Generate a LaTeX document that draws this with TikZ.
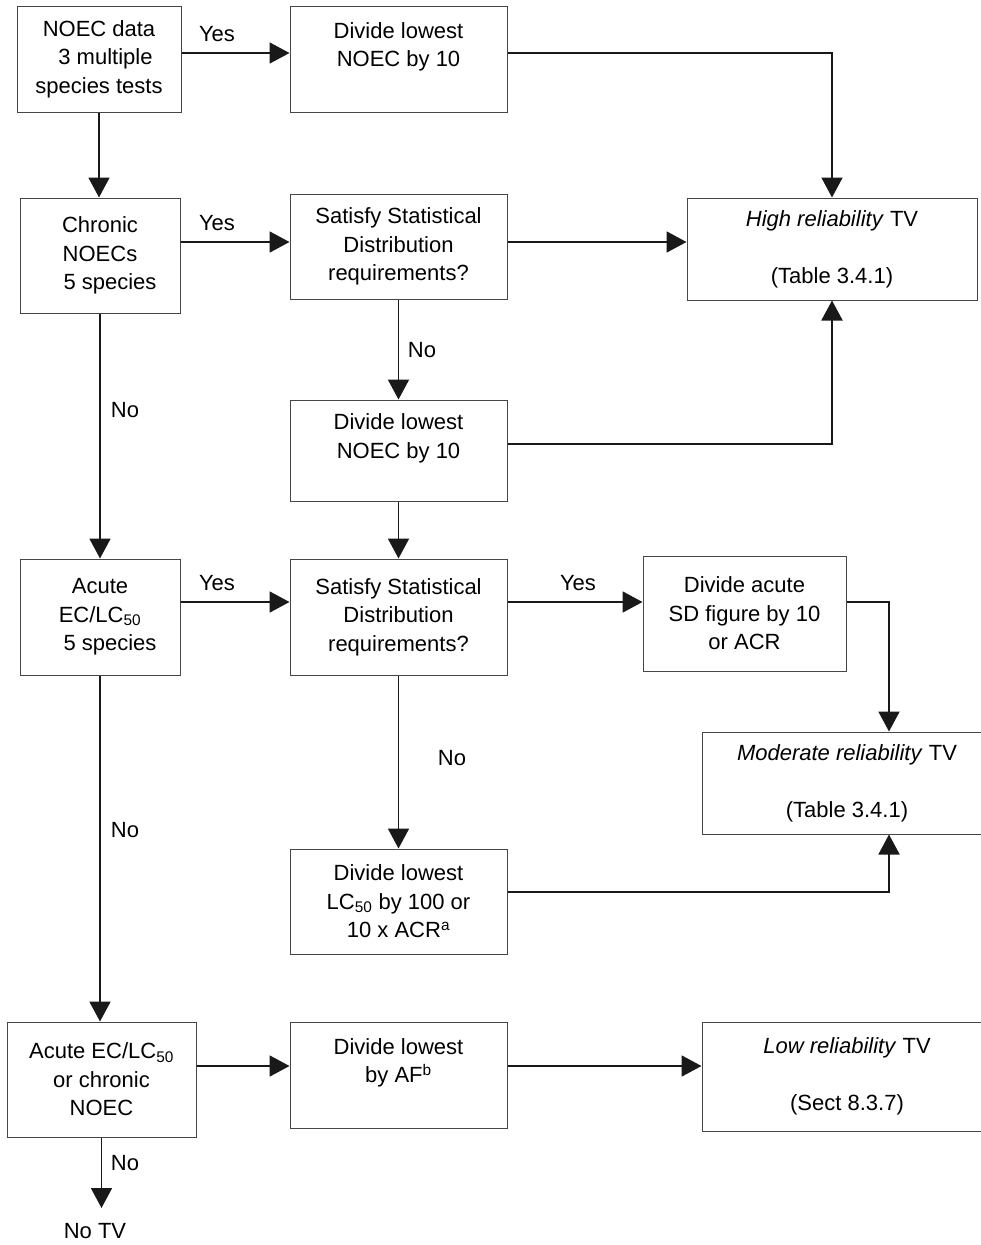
\documentclass[tikz,border=0pt]{standalone}
\usepackage{fontspec}
\setmainfont{Liberation Sans}
\usetikzlibrary{arrows.meta}
\definecolor{boxline}{RGB}{70,70,70}
\definecolor{arrline}{RGB}{25,25,25}
\begin{document}
\begin{tikzpicture}[x=1pt,y=-1pt,
  box/.style={draw=boxline, line width=1pt, rectangle, align=center, inner sep=0pt,
              font=\fontsize{22}{28.5}\selectfont, text=black},
  lbl/.style={font=\fontsize{22}{28.5}\selectfont, inner sep=0pt, text=black},
  arr/.style={draw=arrline, line width=1.9pt, -{Triangle[length=20pt,width=21pt]}},
  ln/.style={draw=arrline, line width=1.9pt}
]
\useasboundingbox (0,0) rectangle (980,1245);
\fill[white] (0,0) rectangle (980,1245);

% boxes
\node[box, minimum width=164pt, minimum height=106pt] (n1) at (99,59)
  {NOEC data\\\hspace*{13pt}3 multiple\\species tests};
\node[box, minimum width=217pt, minimum height=106pt] (d1) at (398.5,59)
  {Divide lowest\\NOEC by 10\\\mbox{}};
\node[box, minimum width=160pt, minimum height=115pt] (n2) at (100,255.5)
  {Chronic\\NOECs\\\hspace*{20pt}5 species};
\node[box, minimum width=217pt, minimum height=105pt] (s1) at (398.5,246.5)
  {Satisfy Statistical\\Distribution\\requirements?};
\node[box, minimum width=290pt, minimum height=102pt] (h) at (832,249)
  {\textit{High reliability} TV\\\mbox{}\\(Table 3.4.1)};
\node[box, minimum width=217pt, minimum height=101pt] (d2) at (398.5,450.5)
  {Divide lowest\\NOEC by 10\\\mbox{}};
\node[box, minimum width=160pt, minimum height=116pt] (n3) at (100,617)
  {Acute\\EC/LC\textsubscript{50}\\\hspace*{20pt}5 species};
\node[box, minimum width=217pt, minimum height=116pt] (s2) at (398.5,617)
  {Satisfy Statistical\\Distribution\\requirements?};
\node[box, minimum width=203pt, minimum height=115pt] (da) at (744.5,613.5)
  {Divide acute\\SD figure by 10\\or ACR};
\node[box, minimum width=290pt, minimum height=102pt] (m) at (847,783)
  {\textit{Moderate reliability} TV\\\mbox{}\\(Table 3.4.1)};
\node[box, minimum width=217pt, minimum height=105pt] (dl) at (398.5,901.5)
  {Divide lowest\\LC\textsubscript{50} by 100 or\\10 x ACR\textsuperscript{a}};
\node[box, minimum width=189pt, minimum height=115pt] (n4) at (101.5,1079.5)
  {Acute EC/LC\textsubscript{50}\\or chronic\\NOEC};
\node[box, minimum width=217pt, minimum height=106pt] (dA) at (398.5,1075)
  {Divide lowest\\by AF\textsuperscript{b}\\\mbox{}};
\node[box, minimum width=290pt, minimum height=109pt] (L) at (847,1076.5)
  {\textit{Low reliability} TV\\\mbox{}\\(Sect 8.3.7)};
\node[lbl] (notv) at (95,1231) {No TV};
\coordinate (notvtip) at (101.5,1208);

% connectors
\draw[arr] ([yshift=6pt]n1.east) -- ([yshift=6pt]n1.east -| d1.west);
\draw[arr] (n1.south) -- (n1.south |- n2.north);
\draw[arr] ([yshift=6pt]d1.east) -| (h.north);
\draw[arr] ([yshift=4.5pt]s1.west -| n2.east) -- ([yshift=4.5pt]s1.west);
\draw[arr] ([yshift=4.5pt]s1.east) -- ([yshift=4.5pt]s1.east -| h.west);
\draw[arr] (n2.south) -- (n2.south |- n3.north);
\draw[arr] (s1.south) -- (d2.north);
\draw[arr] ([yshift=6.5pt]d2.east) -| (h.south);
\draw[arr] (d2.south) -- (s2.north);
\draw[arr] ([yshift=15pt]s2.west -| n3.east) -- ([yshift=15pt]s2.west);
\draw[arr] ([yshift=15pt]s2.east) -- ([yshift=15pt]s2.east -| da.west);
\draw[arr] ([yshift=15pt]s2.east -| da.east) -| ([xshift=42pt]m.north);
\draw[arr] (n3.south) -- (n3.south |- n4.north);
\draw[arr] (s2.south) -- (dl.north);
\draw[arr] ([yshift=9.5pt]dl.east) -| ([xshift=42pt]m.south);
\draw[arr] ([yshift=9pt]dA.west -| n4.east) -- ([yshift=9pt]dA.west);
\draw[arr] ([yshift=9pt]dA.east) -- ([yshift=9pt]dA.east -| L.west);
\draw[arr] (n4.south) -- (notvtip);

% labels
\node[lbl] (y1) at (217,34) {Yes};
\node[lbl] (y2) at (217,223) {Yes};
\node[lbl] (y3) at (217,583) {Yes};
\node[lbl] (y4) at (578,583) {Yes};
\node[lbl] (no1) at (125,410) {No};
\node[lbl] (no2) at (422,350) {No};
\node[lbl] (no3) at (452,758) {No};
\node[lbl] (no4) at (125,830) {No};
\node[lbl] (no5) at (125,1163) {No};
\end{tikzpicture}
\end{document}
